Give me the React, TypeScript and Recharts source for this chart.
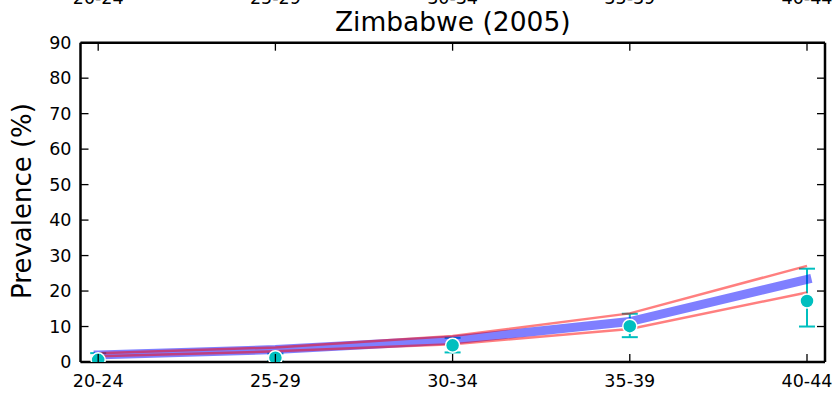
import React from "react";
import { ComposedChart, ErrorBar, Line, XAxis, YAxis } from "recharts";

const ages = ["20-24", "25-29", "30-34", "35-39", "40-44"];
const modelMean = [2.0, 3.5, 6.2, 11.4, 23.3];
const modelUpper = [2.5, 4.1, 7.3, 13.7, 27.1];
const modelLower = [1.6, 3.0, 5.0, 9.3, 19.6];
const observed = [0.6, 1.2, 4.7, 10.1, 17.2];
const observedLow = [0, 0.3, 2.7, 7.0, 10.0];
const observedHigh = [2.5, 2.4, 6.8, 13.6, 26.3];
const yTicks = [0, 10, 20, 30, 40, 50, 60, 70, 80, 90];

const FONT = '"DejaVu Sans", sans-serif';
const TICK_FONT_SIZE = 17.5;
const CYAN = "#00BFBF";

const data = ages.map((age, i) => ({
  age,
  mean: modelMean[i],
  upper: modelUpper[i],
  lower: modelLower[i],
  obs: observed[i],
  err: [observed[i] - observedLow[i], observedHigh[i] - observed[i]],
}));

const axisLine = { stroke: "#000", strokeWidth: 2.5 };
const xPad = { left: 17.7, right: 18 };

const LeftTick = ({ x, y, payload }: any) => (
  <g>
    <line x1={x} x2={x + 8} y1={y} y2={y} stroke="#000" strokeWidth={1.3} />
    <text x={x - 9} y={y} dy="0.36em" textAnchor="end" fontFamily={FONT} fontSize={TICK_FONT_SIZE} fill="#000">
      {payload.value}
    </text>
  </g>
);

const RightTick = ({ x, y }: any) => (
  <line x1={x} x2={x - 8} y1={y} y2={y} stroke="#000" strokeWidth={1.3} />
);

const BottomTick = ({ x, y, payload }: any) => (
  <g>
    <line x1={x} x2={x} y1={y} y2={y - 8} stroke="#000" strokeWidth={1.3} />
    <text x={x} y={y + 25} textAnchor="middle" fontFamily={FONT} fontSize={TICK_FONT_SIZE} fill="#000">
      {payload.value}
    </text>
  </g>
);

const TopTick = ({ x, y, payload }: any) => (
  <g>
    <line x1={x} x2={x} y1={y} y2={y + 8} stroke="#000" strokeWidth={1.3} />
    <text x={x} y={y - 38.3} textAnchor="middle" fontFamily={FONT} fontSize={TICK_FONT_SIZE} fill="#000">
      {payload.value}
    </text>
  </g>
);

export default function App() {
  return (
    <div style={{ position: "absolute", left: 0, top: 0, width: 839, height: 399, background: "#fff" }}>
      <ComposedChart width={839} height={399} data={data} margin={{ top: 0, right: 0, bottom: 0, left: 0 }}>
        <XAxis
          xAxisId="b"
          dataKey="age"
          scale="point"
          padding={xPad}
          height={37}
          tickSize={0}
          tickMargin={0}
          tickLine={false}
          axisLine={axisLine}
          tick={<BottomTick />}
          interval={0}
        />
        <XAxis
          xAxisId="t"
          dataKey="age"
          orientation="top"
          scale="point"
          padding={xPad}
          height={42.7}
          tickSize={0}
          tickMargin={0}
          tickLine={false}
          axisLine={axisLine}
          tick={<TopTick />}
          interval={0}
        />
        <YAxis
          yAxisId="l"
          domain={[0, 90]}
          ticks={yTicks}
          allowDataOverflow
          width={80.5}
          tickSize={0}
          tickMargin={0}
          tickLine={false}
          axisLine={axisLine}
          tick={<LeftTick />}
          interval={0}
        />
        <YAxis
          yAxisId="r"
          orientation="right"
          domain={[0, 90]}
          ticks={yTicks}
          allowDataOverflow
          width={14}
          tickSize={0}
          tickMargin={0}
          tickLine={false}
          axisLine={axisLine}
          tick={<RightTick />}
          interval={0}
        />
        {/* error bars sit underneath the model lines */}
        <Line
          xAxisId="b"
          yAxisId="l"
          dataKey="obs"
          stroke="none"
          dot={false}
          activeDot={false}
          isAnimationActive={false}
        >
          <ErrorBar dataKey="err" direction="y" width={8} strokeWidth={2} stroke={CYAN} />
        </Line>
        <Line
          xAxisId="b"
          yAxisId="l"
          type="linear"
          dataKey="mean"
          stroke="#0000FF"
          strokeOpacity={0.5}
          strokeWidth={9}
          strokeLinecap="square"
          dot={false}
          activeDot={false}
          isAnimationActive={false}
        />
        <Line
          xAxisId="b"
          yAxisId="l"
          type="linear"
          dataKey="upper"
          stroke="#FF0000"
          strokeOpacity={0.5}
          strokeWidth={2.5}
          dot={false}
          activeDot={false}
          isAnimationActive={false}
        />
        <Line
          xAxisId="b"
          yAxisId="l"
          type="linear"
          dataKey="lower"
          stroke="#FF0000"
          strokeOpacity={0.5}
          strokeWidth={2.5}
          dot={false}
          activeDot={false}
          isAnimationActive={false}
        />
        <Line
          xAxisId="b"
          yAxisId="l"
          dataKey="obs"
          stroke="none"
          dot={{ r: 7, fill: CYAN, stroke: "#fff", strokeWidth: 1.5, fillOpacity: 1 }}
          activeDot={false}
          isAnimationActive={false}
        />
      </ComposedChart>
      <svg width={839} height={399} style={{ position: "absolute", left: 0, top: 0, pointerEvents: "none" }}>
        <text x={452.75} y={30.5} textAnchor="middle" fontFamily={FONT} fontSize={26.5} fill="#000">
          Zimbabwe (2005)
        </text>
        <text
          transform="translate(30.5,201) rotate(-90)"
          textAnchor="middle"
          fontFamily={FONT}
          fontSize={26}
          fill="#000"
        >
          Prevalence (%)
        </text>
      </svg>
    </div>
  );
}
